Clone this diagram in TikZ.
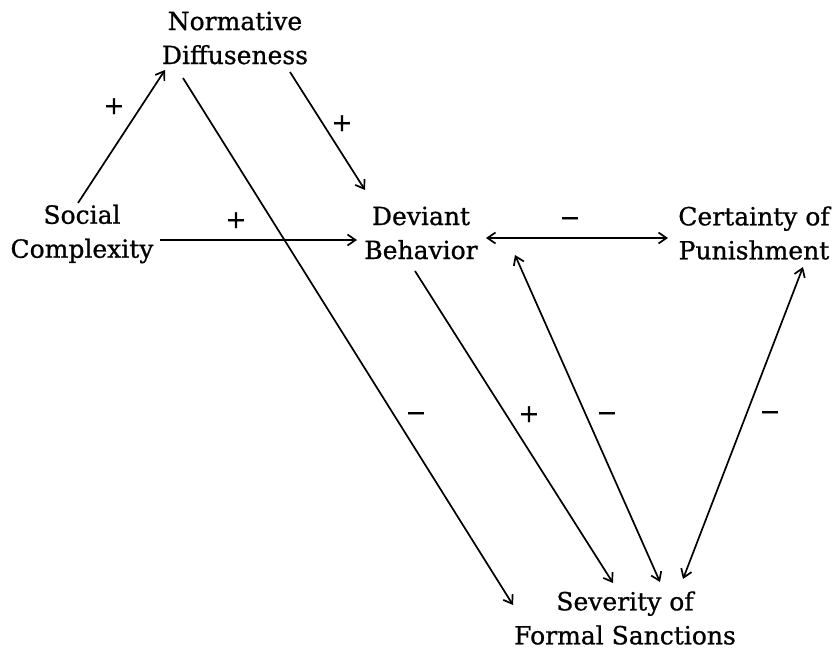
\documentclass[tikz,border=0pt]{standalone}
\usepackage{fontspec}
\setmainfont{DejaVu Serif}[FakeBold=0.8]
\usetikzlibrary{arrows.meta}
\begin{document}
\begin{tikzpicture}[x=1pt,y=-1pt,
  concept/.style={align=center,inner sep=0pt,font=\fontsize{25}{34}\selectfont},
  sign/.style={inner sep=0pt,anchor=base,font=\fontsize{25}{34}\selectfont},
  link/.style={line width=1.7pt,-{Straight Barb[length=8pt,width=11pt]}},
  both/.style={line width=1.7pt,{Straight Barb[length=8pt,width=11pt]}-{Straight Barb[length=8pt,width=11pt]}}]
\useasboundingbox (0,0) rectangle (836,649);
\node[concept] (ND) at (235,38) {Normative\\Diffuseness};
\node[concept] (SC) at (82,234) {Social\\Complexity};
\node[concept] (DB) at (421,233) {Deviant\\Behavior};
\node[concept] (CP) at (754,233) {Certainty of\\Punishment};
\node[concept] (SS) at (625,618) {Severity of\\Formal Sanctions};

\draw[link] ([shift={(-4,-31)}]SC.center) -- ([shift={(-70,32)}]ND.center);
\draw[link] ([shift={(-52,40)}]ND.center) -- ([shift={(-112,-13)}]SS.center);
\draw[link] ([shift={(55,34)}]ND.center) -- ([shift={(-56,-43)}]DB.center);
\draw[link] ([shift={(78,6)}]SC.center) -- ([shift={(-64,7)}]DB.center);
\draw[both] ([shift={(65,5)}]DB.center) -- ([shift={(-86,5)}]CP.center);
\draw[link] ([shift={(-6,38)}]DB.center) -- ([shift={(-12,-35)}]SS.center);
\draw[both] ([shift={(94,22)}]DB.center) -- ([shift={(35,-36)}]SS.center);
\draw[both] ([shift={(49,34)}]CP.center) -- ([shift={(58,-39)}]SS.center);

\node[sign] (s1) at (114,114) {+};
\node[sign] (s2) at (342,131) {+};
\node[sign] (s3) at (236,228) {+};
\node[sign] (s4) at (570,226) {−};
\node[sign] (s5) at (416,421) {−};
\node[sign] (s6) at (529,422) {+};
\node[sign] (s7) at (607,421) {−};
\node[sign] (s8) at (770,420) {−};
\end{tikzpicture}
\end{document}
